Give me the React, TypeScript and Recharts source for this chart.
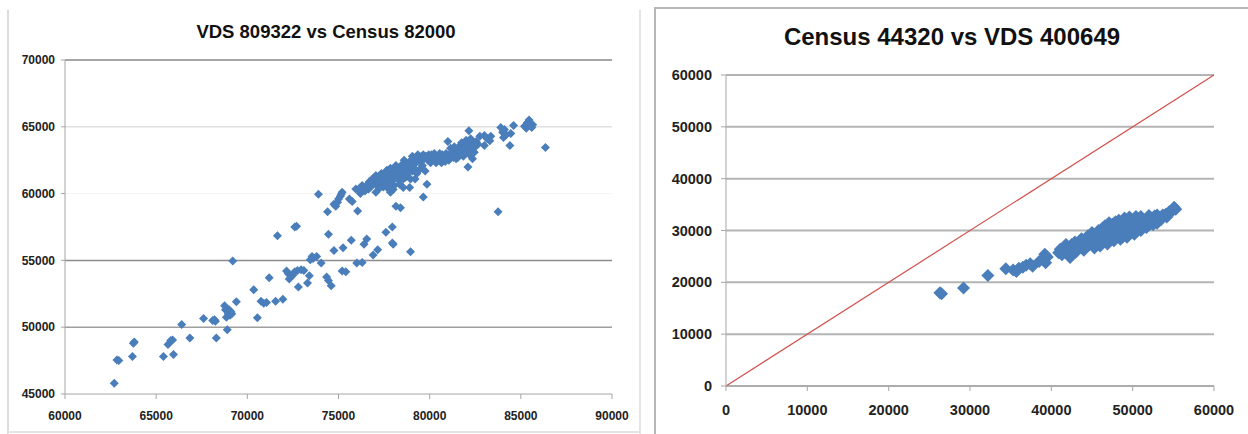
import React from "react";
import {
  ScatterChart,
  Scatter,
  XAxis,
  YAxis,
  CartesianGrid,
  ReferenceLine,
} from "recharts";

// left chart: VDS 809322 (x) vs Census 82000 (y)
const leftXTicks = [60000, 65000, 70000, 75000, 80000, 85000, 90000];
const leftYTicks = [45000, 50000, 55000, 60000, 65000, 70000];

const leftLowerCloud: [number, number][] = [
  [62700, 45800], [62850, 47550], [62950, 47500], [63700, 47800], [63800, 48900],
  [63750, 48800], [65400, 47800], [65950, 47950], [65650, 48700], [65800, 49000],
  [65900, 49050], [66400, 50200], [66850, 49200], [67600, 50650], [68100, 50500],
  [68250, 50450], [68300, 49200], [68900, 49800], [68750, 51600], [68800, 51300],
  [68950, 51000], [69050, 50900], [69100, 51150], [68850, 50750], [69000, 51300],
  [69400, 51900], [69200, 54950], [70350, 52800], [70550, 50700], [70750, 51950],
  [70900, 51800], [71050, 51850], [71200, 53700], [71550, 51950], [71950, 52100],
  [71650, 56850], [72600, 57500], [72700, 57550], [68200, 50550], [69150, 51000],
];

const leftLowerBranch: [number, number][] = [
  [72150, 54200], [72250, 54000], [72400, 53800], [72500, 53900], [72600, 54150],
  [72750, 54250], [72800, 53000], [72950, 54300], [73100, 54250], [73300, 53300],
  [73400, 53850], [73450, 55050], [73600, 55150], [73800, 55300], [74050, 54800],
  [73900, 59950], [74350, 53750], [74450, 53500], [74600, 53100], [74450, 56950],
  [74750, 55750], [75250, 55950], [75200, 54200], [75400, 54150], [75700, 56500],
  [76000, 54800], [76300, 54850], [76400, 56200], [76550, 56600], [76900, 55400],
  [77150, 55800], [77600, 57100], [77950, 57500], [77950, 56300], [78000, 56200],
  [78950, 55650], [72300, 53600], [73550, 55300],
];

const leftUpperBranch: [number, number][] = [
  [74400, 58650], [74750, 59200], [74850, 59050], [75000, 59600], [75100, 59800],
  [75200, 60100], [75600, 59600], [75750, 59400], [76050, 58700], [75950, 60350],
  [76200, 60450], [76400, 60400], [76600, 60700], [76750, 60500], [77050, 60100],
  [77300, 61100], [77850, 60100], [78150, 59050], [78400, 58950], [78550, 60450],
  [78900, 60450], [79650, 59750], [79850, 60700], [74950, 59350], [75150, 59950],
];

const leftMainBand: [number, number][] = [
  [76100, 60300], [76300, 60600], [76500, 60500], [76700, 60900], [76900, 60700],
  [77000, 61000], [77100, 60600], [77200, 61200], [77300, 60800], [77400, 61300],
  [77500, 61000], [77550, 61500], [77600, 60700], [77700, 61200], [77750, 61600],
  [77800, 60900], [77900, 61400], [77950, 61800], [78000, 61100], [78050, 60600],
  [78100, 61600], [78200, 61900], [78250, 61300], [78300, 61000], [78400, 62000],
  [78450, 61600], [78500, 62200], [78600, 61400], [78650, 61800], [78700, 62300],
  [78800, 62000], [78850, 61600], [78900, 62400], [79000, 62100], [79100, 62600],
  [79150, 61900], [79250, 62300], [79300, 61500], [79400, 62700], [79500, 62400],
  [79550, 62800], [79600, 62100], [79700, 62600], [79800, 62800], [79900, 62500],
  [80000, 62700], [80100, 62900], [80200, 62600], [80300, 62800], [80400, 62500],
  [80500, 62700], [80600, 62400], [80700, 62900], [80800, 62600], [80900, 63000],
  [81000, 63900], [81100, 62800], [81200, 63100], [81300, 62700], [81400, 63300],
  [81500, 63000], [81600, 63500], [81700, 62900], [81750, 63800], [81800, 63300],
  [81900, 63600], [81950, 63000], [82000, 64000], [82050, 63400], [82100, 62000],
  [82150, 64700], [82200, 63700], [82300, 63300], [82350, 62600], [82400, 63800],
  [82500, 63500], [82550, 63900],
  // thickening of the band
  [76200, 60000], [76450, 60200], [76650, 60350], [76850, 61100], [77050, 61350],
  [77250, 60400], [77350, 61500], [77450, 60500], [77650, 61750], [77700, 60400],
  [77850, 61900], [78000, 60300], [78150, 62100], [78350, 61700], [78350, 60700],
  [78550, 61100], [78600, 62500], [78750, 61300], [78950, 61100], [79050, 62800],
  [79200, 61100], [79350, 62900], [79450, 61800], [79650, 62900], [79750, 61700],
  [79950, 62900], [80050, 62300], [80250, 63000], [80350, 62300], [80550, 63000],
  [80650, 62300], [80850, 62400], [81050, 62500], [81150, 63400], [81350, 63500],
  [81450, 62600], [81650, 63200], [81850, 62800], [82050, 63800], [82250, 64100],
  [82450, 63100], [81950, 63200], [82150, 63100], [82200, 62900], [81550, 62700],
  [79050, 61700], [78650, 61200], [78100, 61200], [77750, 60500], [77150, 60900],
];

const leftUpperRight: [number, number][] = [
  [82750, 64300], [83000, 64350], [83300, 63950], [83350, 64300], [83900, 64950],
  [84000, 64600], [84050, 64200], [84200, 64400], [84400, 63600], [84450, 64500],
  [84600, 65100], [85200, 65050], [85300, 64900], [85450, 65500], [85500, 65200],
  [85600, 64950], [85650, 65150], [86350, 63450], [83750, 58650], [83000, 63600],
  [82650, 63700], [83150, 64100], [84100, 64800], [85350, 65300],
];

// right chart: Census 44320 (x) vs VDS 400649 (y)
const rightTicks = [0, 10000, 20000, 30000, 40000, 50000, 60000];

const rightPoints: [number, number][] = [
  [26300, 18000], [26500, 17800], [29200, 18900], [32200, 21300], [34400, 22600],
  [35300, 22400], [35700, 22100], [36000, 22700], [36500, 22900], [36900, 23300],
  [37400, 23600], [37700, 23100], [38500, 24000], [39000, 24600], [39200, 25400],
  [39300, 23800], [39500, 24900], [40900, 25700], [41100, 26400], [41300, 25300],
  [41600, 26900], [42100, 26200], [42300, 24800], [42500, 27300], [42800, 26400],
  [43200, 27000], [43500, 27800], [43800, 26600], [44000, 27500], [44300, 28200],
  [44600, 27200], [44900, 28500], [45100, 27800], [45400, 29000], [45700, 28200],
  [46000, 29300], [46200, 27700], [46500, 28800], [46800, 29700], [47000, 28400],
  [47300, 29400], [47600, 30100], [47800, 28800], [48100, 29900], [48400, 30500],
  [48600, 29300], [48900, 31000], [49100, 30200], [49300, 31600], [49500, 29500],
  [49800, 30800], [50100, 31800], [50300, 30500], [50600, 31400], [50900, 32200],
  [51200, 31000], [51500, 31900], [51800, 32400], [52100, 31200], [52400, 32100],
  [52700, 32800], [53000, 31400], [53300, 32500], [53700, 33000], [54100, 33200],
  [54500, 33600], [54900, 33800], [55100, 34500], [55300, 34100], [46300, 30500],
  [47500, 31200], [45500, 27400], [44000, 26200], [43000, 25800], [48800, 28800],
  [50000, 29800], [51000, 32700], [52000, 32900], [53000, 33000],
  // band thickening
  [44500, 29000], [45000, 29600], [45800, 30000], [46600, 30900], [47100, 31500],
  [47900, 31700], [48300, 32000], [49000, 32400], [49600, 32600], [50400, 32700],
  [45300, 26600], [46000, 27000], [46900, 27400], [47700, 28000], [48500, 28300],
  [49300, 28700], [50200, 29300], [51000, 30000], [51700, 30600], [52500, 31100],
  [53500, 32100], [54200, 32600], [43700, 28400], [42900, 27800], [41800, 27300],
];

const identityLine = [
  { x: 0, y: 0 },
  { x: 60000, y: 60000 },
];

const toPts = (arr: [number, number][]) => arr.map(([x, y]) => ({ x, y }));

const leftData = toPts([
  ...leftLowerCloud,
  ...leftLowerBranch,
  ...leftUpperBranch,
  ...leftMainBand,
  ...leftUpperRight,
]);
const rightData = toPts(rightPoints);

const BLUE = "#4a7ebb";

const diamond = (r: number) => (props: any) => {
  const { cx, cy } = props;
  if (cx == null || cy == null) return <g />;
  return (
    <path
      d={`M${cx},${cy - r}L${cx + r},${cy}L${cx},${cy + r}L${cx - r},${cy}Z`}
      fill={BLUE}
    />
  );
};

const font = "'Liberation Sans', Arial, sans-serif";

export default function App() {
  return (
    <div
      style={{
        position: "absolute",
        left: 0,
        top: 0,
        width: 1248,
        height: 434,
        background: "#fff",
        overflow: "hidden",
        fontFamily: font,
      }}
    >
      {/* frames */}
      <div style={{ position: "absolute", left: 7, top: 10, width: 2, height: 424, background: "#dcdcdc" }} />
      <div style={{ position: "absolute", left: 8, top: 431, width: 632, height: 2, background: "#e4e4e4" }} />
      <div style={{ position: "absolute", left: 639, top: 10, width: 2, height: 424, background: "#e4e4e4" }} />
      <div style={{ position: "absolute", left: 654, top: 7, width: 2, height: 427, background: "#b8b8b8" }} />
      <div style={{ position: "absolute", left: 654, top: 7, width: 594, height: 2, background: "#b8b8b8" }} />

      <div
        style={{
          position: "absolute",
          left: 0,
          width: 652,
          top: 21,
          textAlign: "center",
          fontWeight: "bold",
          fontSize: 18.5,
          color: "#111",
        }}
      >
        VDS 809322 vs Census 82000
      </div>
      <div
        style={{
          position: "absolute",
          left: 752,
          width: 400,
          top: 23,
          textAlign: "center",
          fontWeight: "bold",
          fontSize: 24,
          color: "#111",
        }}
      >
        Census 44320 vs VDS 400649
      </div>

      {/* left chart */}
      <div style={{ position: "absolute", left: 0, top: 0 }}>
        <ScatterChart
          width={640}
          height={434}
          margin={{ top: 60, right: 28, left: 0, bottom: 0 }}
          style={{ overflow: "visible" }}
        >
          <XAxis
            type="number"
            dataKey="x"
            domain={[60000, 90000]}
            ticks={leftXTicks}
            height={40}
            allowDataOverflow
            axisLine={{ stroke: "#a6a6a6" }}
            tickLine={{ stroke: "#a6a6a6" }}
            tickSize={5}
            tickMargin={12}
            tick={{ fontSize: 12, fontWeight: "bold", fill: "#222", fontFamily: font }}
          />
          <YAxis
            type="number"
            dataKey="y"
            domain={[45000, 70000]}
            ticks={leftYTicks}
            width={65}
            allowDataOverflow
            axisLine={{ stroke: "#a6a6a6" }}
            tickLine={{ stroke: "#a6a6a6" }}
            tickSize={4}
            tickMargin={6}
            tick={{ fontSize: 12, fontWeight: "bold", fill: "#222", fontFamily: font }}
          />
          <ReferenceLine y={70000} stroke="#a6a6a6" strokeWidth={2} />
          <ReferenceLine y={65000} stroke="#e0e0e0" strokeWidth={1.5} />
          <ReferenceLine y={60000} stroke="#f4f4f4" strokeWidth={1} />
          <ReferenceLine y={55000} stroke="#8c8c8c" strokeWidth={1.5} />
          <ReferenceLine y={50000} stroke="#9e9e9e" strokeWidth={1.5} />
          <Scatter data={leftData} shape={diamond(4.5)} isAnimationActive={false} />
        </ScatterChart>
      </div>

      {/* right chart */}
      <div style={{ position: "absolute", left: 640, top: 0 }}>
        <ScatterChart
          width={608}
          height={434}
          margin={{ top: 75, right: 34, left: 0, bottom: 0 }}
        >
          <CartesianGrid vertical={false} stroke="#b4b4b4" strokeWidth={2} />
          <XAxis
            type="number"
            dataKey="x"
            domain={[0, 60000]}
            ticks={rightTicks}
            height={48}
            allowDataOverflow
            axisLine={{ stroke: "#a6a6a6" }}
            tickLine={{ stroke: "#a6a6a6" }}
            tickSize={5}
            tickMargin={14}
            tick={{ fontSize: 14.5, fontWeight: "bold", fill: "#222", fontFamily: font }}
          />
          <YAxis
            type="number"
            dataKey="y"
            domain={[0, 60000]}
            ticks={rightTicks}
            width={86}
            allowDataOverflow
            axisLine={{ stroke: "#a6a6a6" }}
            tickLine={{ stroke: "#a6a6a6" }}
            tickSize={5}
            tickMargin={9}
            tick={{ fontSize: 14.5, fontWeight: "bold", fill: "#222", fontFamily: font }}
          />
          <ReferenceLine
            segment={identityLine}
            stroke="#d0504d"
            strokeWidth={1.2}
            ifOverflow="visible"
          />
          <Scatter data={rightData} shape={diamond(6.5)} isAnimationActive={false} />
        </ScatterChart>
      </div>
    </div>
  );
}
